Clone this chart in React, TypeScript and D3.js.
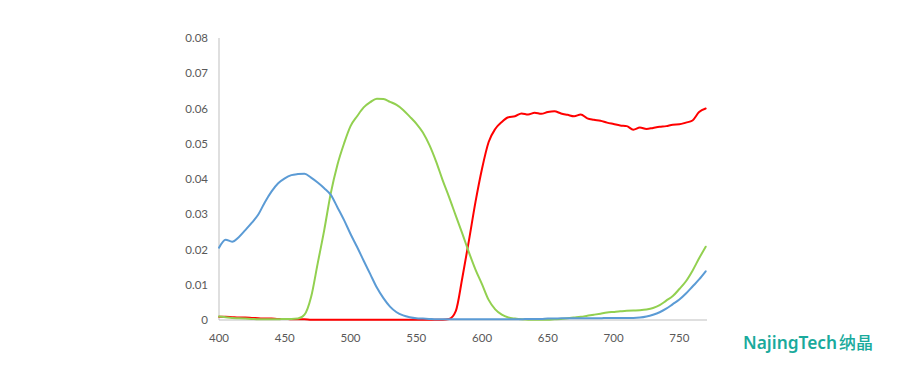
import React from "react";
import * as d3 from "d3";

const wavelengths: number[] = d3.range(400, 771, 5);

const blueSeries: number[] = [
  0.0205, 0.0228, 0.0222, 0.0235, 0.0255, 0.0276, 0.0300, 0.0335, 0.0365, 0.0388,
  0.0402, 0.0411, 0.0414, 0.0415, 0.0404, 0.0390, 0.0374, 0.0355, 0.0320, 0.0284,
  0.0244, 0.0207, 0.0168, 0.0130, 0.0092, 0.0062, 0.0038, 0.0022, 0.0013, 0.0008,
  0.0005, 0.0004, 0.0003, 0.0002, 0.0002, 0.0002, 0.0002, 0.0002, 0.0002, 0.0002,
  0.0002, 0.0002, 0.0002, 0.0002, 0.0002, 0.0002, 0.0002, 0.0003, 0.0003, 0.0003,
  0.0004, 0.0004, 0.0005, 0.0005, 0.0005, 0.0005, 0.0005, 0.0005, 0.0005, 0.0006,
  0.0006, 0.0006, 0.0006, 0.0006, 0.0007, 0.0010, 0.0015, 0.0022, 0.0032, 0.0045,
  0.0058, 0.0075, 0.0095, 0.0115, 0.0138,
];

const greenSeries: number[] = [
  0.0010, 0.0008, 0.0006, 0.0005, 0.0004, 0.0003, 0.0002, 0.0002, 0.0002, 0.0002,
  0.0003, 0.0003, 0.0004, 0.0015, 0.0065, 0.0160, 0.0255, 0.0360, 0.0440, 0.0500,
  0.0550, 0.0578, 0.0603, 0.0618, 0.0628, 0.0627, 0.0619, 0.0610, 0.0596, 0.0577,
  0.0557, 0.0532, 0.0496, 0.0450, 0.0397, 0.0348, 0.0296, 0.0245, 0.0192, 0.0143,
  0.0101, 0.0057, 0.0030, 0.0015, 0.0007, 0.0004, 0.0002, 0.0001, 0.0001, 0.0001,
  0.0001, 0.0002, 0.0003, 0.0005, 0.0007, 0.0009, 0.0012, 0.0015, 0.0018, 0.0021,
  0.0023, 0.0025, 0.0026, 0.0027, 0.0028, 0.0030, 0.0034, 0.0042, 0.0055, 0.0068,
  0.0088, 0.0110, 0.0140, 0.0175, 0.0208,
];

const redSeries: number[] = [
  0.0009, 0.0009, 0.0008, 0.0007, 0.0007, 0.0006, 0.0005, 0.0004, 0.0004, 0.0003,
  0.0003, 0.0002, 0.0002, 0.0002, 0.0001, 0.0001, 0.0001, 0.0001, 0.0001, 0.0001,
  0.0001, 0.0001, 0.0001, 0.0001, 0.0001, 0.0001, 0.0001, 0.0001, 0.0001, 0.0001,
  0.0001, 0.0001, 0.0001, 0.0001, 0.0001, 0.0003, 0.0025, 0.0120, 0.0225, 0.0335,
  0.0430, 0.0505, 0.0542, 0.0562, 0.0575, 0.0578, 0.0586, 0.0583, 0.0588, 0.0585,
  0.0590, 0.0592, 0.0586, 0.0582, 0.0578, 0.0583, 0.0572, 0.0568, 0.0565, 0.0560,
  0.0556, 0.0552, 0.0550, 0.0540, 0.0546, 0.0542, 0.0545, 0.0548, 0.0550, 0.0554,
  0.0555, 0.0560, 0.0566, 0.0590, 0.0600,
];

const xTicks: number[] = [400, 450, 500, 550, 600, 650, 700, 750];
const yTicks: number[] = [0, 0.01, 0.02, 0.03, 0.04, 0.05, 0.06, 0.07, 0.08];
const yTickLabels: string[] = ["0", "0.01", "0.02", "0.03", "0.04", "0.05", "0.06", "0.07", "0.08"];

const W = 900;
const H = 383;

export default function App() {
  const x = d3.scaleLinear().domain([400, 771]).range([219, 707]);
  const y = d3.scaleLinear().domain([0, 0.08]).range([320, 38]);

  const line = d3
    .line<number>()
    .x((_, i) => x(wavelengths[i]))
    .y((d) => y(d))
    .curve(d3.curveMonotoneX);

  const series = [
    { values: redSeries, color: "#FF0000" },
    { values: greenSeries, color: "#92D050" },
    { values: blueSeries, color: "#5B9BD5" },
  ];

  const font = "Lato, 'Liberation Sans', sans-serif";

  return (
    <svg
      width={W}
      height={H}
      style={{ position: "absolute", left: 0, top: 0, background: "#fff" }}
    >
      <rect x={0} y={0} width={W} height={H} fill="#fff" />
      <line x1={x(400)} x2={x(400)} y1={y(0.08)} y2={y(0)} stroke="#BFBFBF" strokeWidth={1} />
      <line x1={x(400)} x2={x(771)} y1={y(0)} y2={y(0)} stroke="#BFBFBF" strokeWidth={1} />
      {yTicks.map((t, i) => (
        <text
          key={"y" + i}
          x={208}
          y={y(t) + 4}
          textAnchor="end"
          fontSize={11.5}
          fontFamily={font}
          fill="#595959"
        >
          {yTickLabels[i]}
        </text>
      ))}
      {xTicks.map((t) => (
        <text
          key={"x" + t}
          x={x(t)}
          y={342}
          textAnchor="middle"
          fontSize={11.5}
          fontFamily={font}
          fill="#595959"
        >
          {t}
        </text>
      ))}
      {series.map((s, i) => (
        <path
          key={i}
          d={line(s.values) || ""}
          fill="none"
          stroke={s.color}
          strokeWidth={2}
          strokeLinejoin="round"
          strokeLinecap="round"
        />
      ))}
      <text
        x={743}
        y={349}
        fontSize={18}
        fontWeight={600}
        fontFamily="'Noto Sans', sans-serif"
        fill="#1AAA9C"
        textLength={94}
        lengthAdjust="spacingAndGlyphs"
      >
        NajingTech
      </text>
      <text
        x={839}
        y={349}
        fontSize={16.5}
        fontWeight={500}
        fontFamily="'Noto Sans CJK SC', sans-serif"
        fill="#1AAA9C"
        textLength={34}
        lengthAdjust="spacingAndGlyphs"
      >
        纳晶
      </text>
    </svg>
  );
}
